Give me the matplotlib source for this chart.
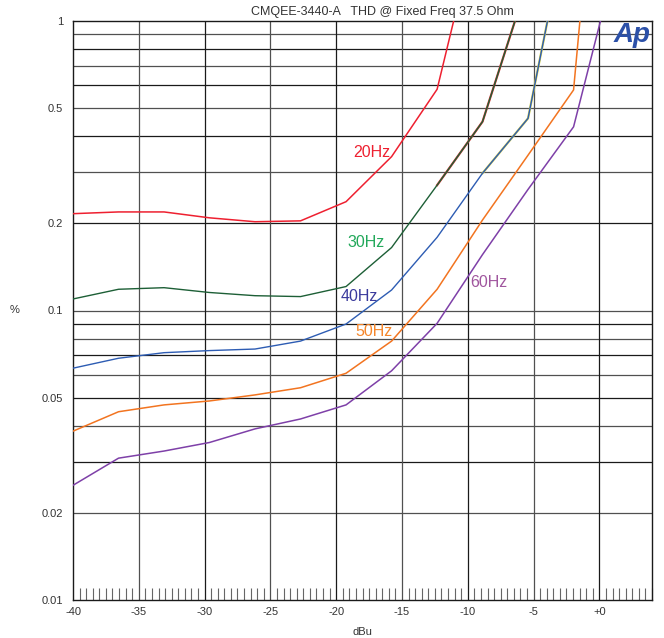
import matplotlib
matplotlib.use("Agg")
import matplotlib.pyplot as plt
from matplotlib.ticker import FixedLocator, NullFormatter

plt.rcParams['font.family'] = ['Liberation Sans', 'DejaVu Sans']

# sweep levels (dBu) and THD (%)
level = [-40.0, -36.54, -33.08, -29.63, -26.17, -22.71, -19.25,
         -15.79, -12.33, -8.88, -5.42, -1.96, 1.5]
thd_20 = [0.216, 0.219, 0.219, 0.209, 0.2026, 0.204, 0.2376, 0.340, 0.581, 2.58]
thd_30 = [0.1096, 0.1184, 0.1199, 0.1154, 0.1125, 0.1117, 0.121, 0.165,
          0.271, 0.449, 1.38]
thd_40 = [0.0632, 0.0684, 0.0715, 0.0727, 0.0736, 0.0784, 0.0898, 0.1177,
          0.179, 0.298, 0.461, 2.83]
thd_50 = [0.0383, 0.0447, 0.0472, 0.0487, 0.0511, 0.0541, 0.0607, 0.0784,
          0.1184, 0.2054, 0.344, 0.578, 30.0]
thd_60 = [0.0249, 0.0309, 0.0327, 0.0350, 0.0390, 0.0422, 0.0472, 0.0619,
          0.0903, 0.156, 0.262, 0.431, 1.79]

x_ticks = [-40, -35, -30, -25, -20, -15, -10, -5, 0]
x_labels = ['-40', '-35', '-30', '-25', '-20', '-15', '-10', '-5', '+0']
y_ticks = [0.01, 0.02, 0.05, 0.1, 0.2, 0.5, 1]
y_labels = ['0.01', '0.02', '0.05', '0.1', '0.2', '0.5', '1']
y_grid = [0.02, 0.03, 0.04, 0.05, 0.06, 0.07, 0.08, 0.09, 0.1,
          0.2, 0.3, 0.4, 0.5, 0.6, 0.7, 0.8, 0.9]

fig = plt.figure(figsize=(6.64, 6.38), dpi=100)
ax = fig.add_axes([73 / 664, 1 - 600 / 638, (652 - 73) / 664, (600 - 21) / 638])
ax.set_yscale('log')
ax.set_xlim(-40, 4)
ax.set_ylim(0.01, 1)

# grid
for i, v in enumerate(y_grid):
    ax.axhline(v, color='#1a1a1a' if i % 2 else '#505050', lw=0.9, zorder=1)
for i, v in enumerate(x_ticks[1:]):
    ax.axvline(v, color='#505050' if i % 2 == 0 else '#1a1a1a', lw=0.9, zorder=1)

# curves (upper parts of 30Hz/40Hz sit on top of another trace)
ax.plot(level[:len(thd_20)], thd_20, color='#ee2030', lw=1.1, zorder=3)
ax.plot(level[8:len(thd_30)], thd_30[8:], color='#d83030', lw=1.6, zorder=3)
ax.plot(level[:len(thd_30)], thd_30, color='#1d5f36', lw=1.0, zorder=4)
ax.plot(level[9:len(thd_40)], thd_40[9:], color='#d8d040', lw=1.6, zorder=3)
ax.plot(level[:len(thd_40)], thd_40, color='#2d5cb3', lw=1.0, zorder=4)
ax.plot(level, thd_50, color='#f27420', lw=1.1, zorder=3)
ax.plot(level, thd_60, color='#7e40a8', lw=1.1, zorder=3)

# curve labels
ax.text(-17.27, 0.350, '20Hz', color='#ee2030', fontsize=11.5, ha='center', va='center', zorder=5)
ax.text(-17.73, 0.1724, '30Hz', color='#22a85a', fontsize=11.5, ha='center', va='center', zorder=5)
ax.text(-18.26, 0.1122, '40Hz', color='#3a3a9c', fontsize=11.5, ha='center', va='center', zorder=5)
ax.text(-17.12, 0.0849, '50Hz', color='#f5862a', fontsize=11.5, ha='center', va='center', zorder=5)
ax.text(-8.41, 0.1245, '60Hz', color='#a0569e', fontsize=11.5, ha='center', va='center', zorder=5)

# Ap logo
ax.text(0.997, 0.999, 'Ap', transform=ax.transAxes, color='#2b50a8', fontsize=20,
        fontweight='heavy', style='italic', ha='right', va='top', zorder=5)

ax.xaxis.set_major_locator(FixedLocator(x_ticks))
ax.set_xticklabels(x_labels)
ax.xaxis.set_minor_locator(FixedLocator([-40 + 0.5 * k for k in range(89)]))
ax.xaxis.set_minor_formatter(NullFormatter())
ax.yaxis.set_major_locator(FixedLocator(y_ticks))
ax.set_yticklabels(y_labels)
ax.yaxis.set_minor_locator(FixedLocator([]))
ax.tick_params(axis='x', which='major', length=0, pad=5, labelsize=8, colors='#333333')
ax.tick_params(axis='x', which='minor', direction='in', length=8.5, width=0.8,
               color='#666666')
ax.tick_params(axis='y', which='major', length=0, pad=7, labelsize=8, colors='#333333')
for s in ax.spines.values():
    s.set_color('#1a1a1a')
    s.set_linewidth(1.0)

fig.text(382 / 664, 1 - 12 / 638, 'CMQEE-3440-A   THD @ Fixed Freq 37.5 Ohm',
         fontsize=9, color='#333333', ha='center', va='center')
fig.text(15 / 664, 1 - 310 / 638, '%', fontsize=8, color='#333333', ha='center', va='center')
fig.text(362 / 664, 1 - 632 / 638, 'dBu', fontsize=8, color='#333333', ha='center', va='center')

fig.savefig('out.png', dpi=100)
